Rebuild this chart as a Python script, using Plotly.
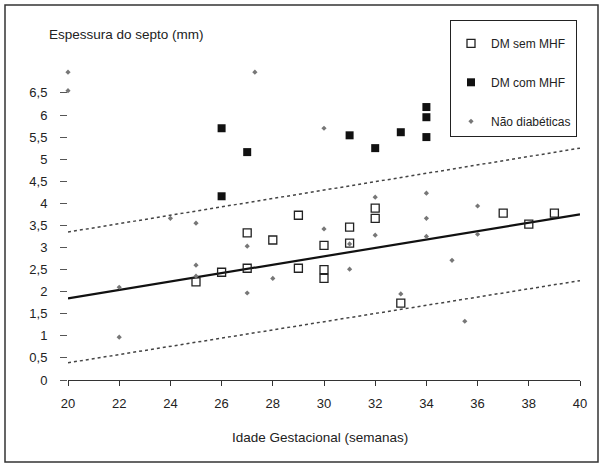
import plotly.graph_objects as go

# --- data ---
sem_x = [25, 26, 27, 27, 28, 29, 29, 30, 30, 30, 31, 31, 32, 32, 33, 37, 38, 39]
sem_y = [2.22, 2.44, 2.53, 3.33, 3.17, 3.73, 2.53, 2.5, 2.3, 3.05, 3.46, 3.1, 3.89, 3.66, 1.74, 3.78, 3.53, 3.78]

com_x = [26, 26, 27, 31, 32, 33, 34, 34, 34]
com_y = [5.70, 4.16, 5.16, 5.54, 5.25, 5.61, 6.18, 5.95, 5.50]

nd_x = [20, 20, 22, 22, 24, 25, 25, 25, 27, 27, 27.3, 28, 30, 30, 31, 31, 32, 32, 33, 34, 34, 34, 35, 35.5, 36, 36]
nd_y = [6.55, 6.97, 2.1, 0.97, 3.66, 2.6, 2.35, 3.55, 3.03, 1.97, 6.97, 2.3, 3.42, 5.7, 2.51, 3.08, 4.14, 3.28, 1.95, 4.23, 3.66, 3.25, 2.71, 1.33, 3.94, 3.3]

fit_x = [20, 40]
fit_y = [1.85, 3.75]
upper_y = [3.35, 5.25]
lower_y = [0.39, 2.25]

y_ticks = [0, 0.5, 1, 1.5, 2, 2.5, 3, 3.5, 4, 4.5, 5, 5.5, 6, 6.5]
y_labels = ["0", "0,5", "1", "1,5", "2", "2,5", "3", "3,5", "4", "4,5", "5", "5,5", "6", "6,5"]
x_ticks = [20, 22, 24, 26, 28, 30, 32, 34, 36, 38, 40]

FONT = "Liberation Sans, Arial, sans-serif"

fig = go.Figure()

fig.add_trace(go.Scatter(x=fit_x, y=upper_y, mode="lines", showlegend=False,
                         line=dict(color="#444", width=1.5, dash="dot"), hoverinfo="skip"))
fig.add_trace(go.Scatter(x=fit_x, y=lower_y, mode="lines", showlegend=False,
                         line=dict(color="#444", width=1.5, dash="dot"), hoverinfo="skip"))
fig.add_trace(go.Scatter(x=fit_x, y=fit_y, mode="lines", showlegend=False,
                         line=dict(color="#111", width=2.2), hoverinfo="skip"))

fig.add_trace(go.Scatter(x=sem_x, y=sem_y, mode="markers", name="DM sem MHF", legendgroup="a",
                         marker=dict(symbol="square-open", size=8, color="#222", line=dict(width=1.3)),
                         cliponaxis=False))
fig.add_trace(go.Scatter(x=com_x, y=com_y, mode="markers", name="DM com MHF", legendgroup="b",
                         marker=dict(symbol="square", size=8, color="#111"), cliponaxis=False))
fig.add_trace(go.Scatter(x=nd_x, y=nd_y, mode="markers", name="Não diabéticas", legendgroup="c",
                         marker=dict(symbol="diamond", size=4, color="#777"), cliponaxis=False))

W, H = 603, 467
L, R = 68, 580
T, B = 62, 380
pw, ph = R - L, B - T

def px(xp):
    return (xp - L) / pw

def py(yp):
    return (B - yp) / ph

fig.update_layout(
    width=W, height=H,
    margin=dict(l=L, r=W - R, t=T, b=H - B, autoexpand=False),
    paper_bgcolor="white", plot_bgcolor="white",
    font=dict(family=FONT, size=13, color="#222"),
    showlegend=True,
    legend=dict(x=px(450), y=py(20), xanchor="left", yanchor="top",
                bordercolor="#222", borderwidth=1, bgcolor="white",
                font=dict(size=12, color="#222"), tracegroupgap=20,
                itemwidth=30, title=dict(text=" ", font=dict(size=6))),
    xaxis=dict(range=[20, 40], tickvals=x_ticks, showgrid=False, zeroline=False,
               showline=True, linecolor="#333", linewidth=1, automargin=False,
               ticks="outside", ticklen=5, tickcolor="#333",
               ticklabelstandoff=6, tickfont=dict(size=13, color="#222")),
    yaxis=dict(range=[0, 7.2], tickvals=y_ticks, ticktext=y_labels, showgrid=False,
               zeroline=False, showline=False, ticks="outside", ticklen=7, automargin=False,
               tickcolor="#555", ticklabelstandoff=10, tickfont=dict(size=13, color="#222")),
)

fig.add_annotation(x=px(47), y=py(35), xref="paper", yref="paper", xanchor="left", yanchor="middle",
                   text="Espessura do septo (mm)", showarrow=False, font=dict(size=13.5, color="#222"))
fig.add_annotation(x=px(320), y=py(437), xref="paper", yref="paper", xanchor="center", yanchor="middle",
                   text="Idade Gestacional (semanas)", showarrow=False, font=dict(size=13.5, color="#222"))

fig.add_shape(type="rect", xref="paper", yref="paper",
              x0=px(5), x1=px(598), y0=py(462), y1=py(5),
              line=dict(color="#333", width=1.5), layer="below")

fig.write_html("out.html", post_script="document.body.style.margin='0';",
               config={"displayModeBar": False})
